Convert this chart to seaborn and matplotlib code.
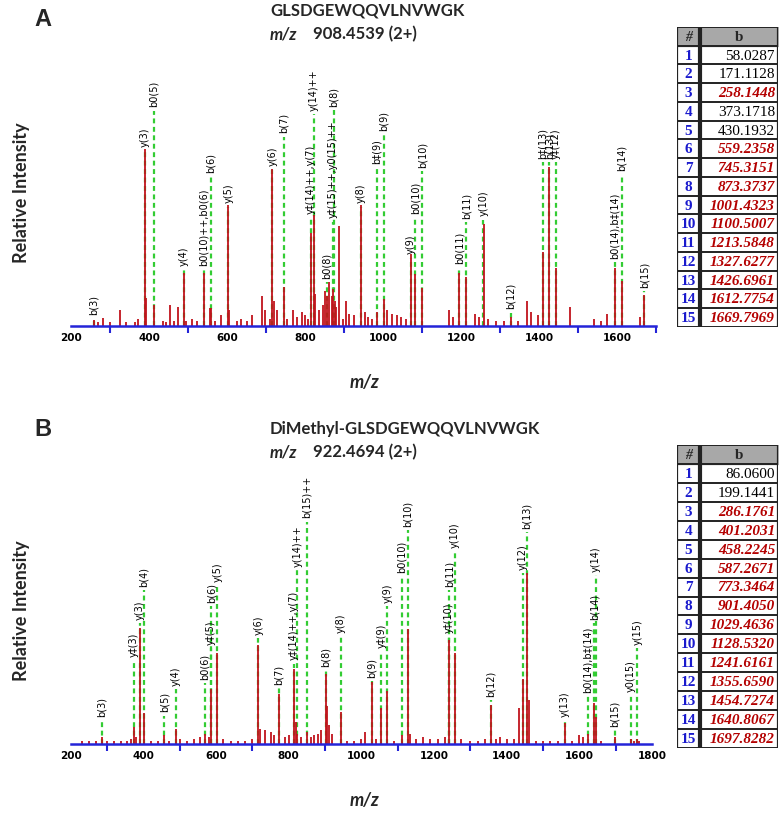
import matplotlib
matplotlib.use("Agg")
import matplotlib.pyplot as plt
import seaborn as sns

sns.set_theme(style="white")
plt.rcParams['font.family'] = ['DejaVu Sans']

RED = '#c0141c'
GREEN = '#33cc33'
BLUE = '#2424d8'
IDX_BLUE = '#1a1acd'
VAL_RED = '#b40000'

# ---------------- panel A : GLSDGEWQQVLNVWGK ----------------
a_peak_mz = [258.1, 268, 283, 299, 326, 340, 364, 373, 390.2, 391.2, 412.2, 437, 444,
             455, 465, 475, 489.3, 496, 511, 523, 541.2, 556, 559.2, 569, 585, 603.3,
             604.3, 626, 637, 652, 665, 691, 697, 710, 716.4, 720.4, 727, 745.3, 753,
             769, 779, 793, 800, 808, 814.9, 823.4, 826, 835, 845, 851, 855.4, 862,
             868, 871, 876, 880, 887, 898, 905, 912, 925, 943.5, 955, 962, 972, 984.4,
             1001.4, 1010, 1022, 1035, 1045, 1060, 1071.6, 1082.5, 1100.5, 1170, 1180,
             1195.6, 1213.6, 1235, 1245, 1257.7, 1270, 1290, 1310, 1327.6, 1345, 1370,
             1380, 1398, 1409.7, 1426.7, 1443.7, 1480, 1540, 1560, 1575, 1594.8, 1612.8,
             1660, 1669.8]
a_peak_int = [3.5, 2, 4.5, 2.5, 9, 2, 2.5, 4, 100, 16, 12, 3, 2.5,
              12, 3, 11, 30, 3, 4, 3, 30, 10, 10, 3, 6, 68.5,
              9, 3, 4, 3, 6, 17, 9, 4, 88.7, 14, 9, 22, 4,
              9, 5, 8, 6, 4, 52.5, 62.7, 18, 9, 12, 20, 17, 25,
              17, 21, 14, 11, 56.5, 4, 14, 7, 6, 68.4, 8, 5, 4, 8,
              15.3, 9, 7, 6, 5, 4, 40.7, 29.4, 21.5, 9, 5,
              30, 27.7, 7, 5, 57.6, 4, 3, 3, 5, 3, 14,
              8, 6, 42, 90, 33, 11, 4, 3, 7, 33, 25.4,
              5, 17.5]
a_lab_mz = [258.14, 390.21, 412.18, 489.28, 541.22, 559.24, 603.32, 716.41, 745.32,
            814.9, 823.4, 855.36, 870.94, 873.37, 943.54, 984.41, 1001.43, 1071.59,
            1082.49, 1100.5, 1195.57, 1213.58, 1257.67, 1327.63, 1409.67, 1426.7,
            1443.74, 1594.76, 1612.78, 1669.8]
a_lab_txt = ['b(3)', 'y(3)', 'b0(5)', 'y(4)', 'b0(10)++,b0(6)', 'b(6)', 'y(5)', 'y(6)',
             'b(7)', 'y‡(14)++,y(7)', 'y(14)++', 'b0(8)', 'y‡(15)++,y0(15)++', 'b(8)',
             'y(8)', 'b‡(9)', 'b(9)', 'y(9)', 'b0(10)', 'b(10)', 'b0(11)', 'b(11)',
             'y(10)', 'b(12)', 'b‡(13)', 'b(13)', 'y‡(12)', 'b0(14),b‡(14)', 'b(14)',
             'b(15)']
a_lab_y = [6.2, 101, 123.7, 33.9, 33.9, 86.4, 69.5, 90.4, 109,
           63.3, 121.5, 26.6, 61, 124, 69.5, 91.5, 110, 40.7,
           63.3, 89.3, 35, 60.5, 62, 9.6, 94.4, 94.4,
           94.4, 37.9, 87.6, 21.5]
a_b_val = ['58.0287', '171.1128', '258.1448', '373.1718', '430.1932', '559.2358',
           '745.3151', '873.3737', '1001.4323', '1100.5007', '1213.5848', '1327.6277',
           '1426.6961', '1612.7754', '1669.7969']
a_b_hit = [0, 0, 1, 0, 0, 1, 1, 1, 1, 1, 1, 1, 1, 1, 1]

# ---------------- panel B : DiMethyl-GLSDGEWQQVLNVWGK ----------------
b_peak_mz = [230, 250, 270, 286.2, 300, 320, 340, 355, 365, 373.2, 380, 390.2, 401.2,
             420, 440, 458.2, 470, 489.3, 500, 520, 540, 555, 569.3, 580, 586.3, 603.3,
             620, 640, 660, 680, 700, 716.4, 722, 735, 750, 760, 773.4, 790, 800,
             814.9, 819, 823.4, 835, 849.4, 860, 870, 880, 890, 901.4, 905, 912, 920,
             943.5, 960, 980, 1000, 1010, 1029.5, 1040, 1054.6, 1071.6, 1090, 1110.5,
             1128.5, 1135, 1150, 1170, 1190, 1210, 1230, 1240.7, 1257.7, 1275, 1300,
             1320, 1340, 1355.7, 1370, 1380, 1400, 1420, 1434, 1443.7, 1454.7, 1460,
             1480, 1500, 1520, 1540, 1558.8, 1580, 1600, 1610, 1622.8, 1640.8, 1645.8,
             1660, 1697.8, 1740.9, 1750, 1758.9, 1765]
b_peak_int = [1.5, 2, 1.5, 4, 2, 1.5, 2, 2, 3, 10, 4, 68, 18,
              2, 2, 5, 2, 9, 3, 2, 3, 4, 6, 4, 32, 53,
              3, 2, 2, 2, 3, 58, 9, 8, 7, 5, 29, 4, 5,
              44, 13, 6, 4, 7, 4, 5, 6, 8, 41, 22, 11, 6,
              19, 2, 2, 3, 7, 36, 3, 21, 31, 2, 5,
              67, 6, 3, 4, 3, 3, 4, 61, 53, 3, 2,
              2, 3, 23, 3, 4, 3, 3, 21, 38, 100, 26,
              2, 2, 2, 2, 12, 2, 5, 4, 6, 24, 16,
              2, 4, 3, 2, 3, 2]
b_lab_mz = [286.18, 373.19, 390.21, 401.2, 458.22, 489.28, 569.26, 586.3, 587.27,
            603.32, 716.41, 773.35, 814.89, 823.4, 849.42, 901.41, 943.54, 1029.46,
            1054.57, 1071.59, 1110.52, 1128.53, 1240.65, 1241.62, 1257.67, 1355.66,
            1443.74, 1454.73, 1558.76, 1622.8, 1640.81, 1645.8, 1697.83, 1740.87,
            1758.88]
b_lab_txt = ['b(3)', 'y‡(3)', 'y(3)', 'b(4)', 'b(5)', 'y(4)', 'b0(6)', 'y‡(5)', 'b(6)',
             'y(5)', 'y(6)', 'b(7)', 'y‡(14)++,y(7)', 'y(14)++', 'b(15)++', 'b(8)',
             'y(8)', 'b(9)', 'y‡(9)', 'y(9)', 'b0(10)', 'b(10)', 'y‡(10)', 'b(11)',
             'y(10)', 'b(12)', 'y(12)', 'b(13)', 'y(13)', 'b0(14),b‡(14)', 'b(14)',
             'y(14)', 'b(15)', 'y0(15)', 'y(15)']
b_lab_y = [16, 50.9, 72.5, 91.8, 18.6, 34, 37.4, 57.9, 82.5,
           94.7, 63.7, 34.5, 49, 103.5, 132, 45, 65, 38.6,
           56, 82.5, 100, 127, 65, 91.8, 114.6, 27.5,
           101.8, 126, 15.8, 29.8, 72.5, 100.6, 10, 30.4,
           57.9]
b_b_val = ['86.0600', '199.1441', '286.1761', '401.2031', '458.2245', '587.2671',
           '773.3464', '901.4050', '1029.4636', '1128.5320', '1241.6161', '1355.6590',
           '1454.7274', '1640.8067', '1697.8282']
b_b_hit = [0, 0, 1, 1, 1, 1, 1, 1, 1, 1, 1, 1, 1, 1, 1]

W, H = 780, 813
fig = plt.figure(figsize=(W / 100, H / 100), dpi=100)


def spectrum(rect, xmax, ytop, mz, inten, lab_mz, lab_txt, lab_y):
    ax = fig.add_axes(rect)
    ax.vlines(lab_mz, 0, [v - 2 for v in lab_y], colors=GREEN,
              linestyles=(0, (2.2, 1.6)), lw=1.6, zorder=1)
    ax.vlines(mz, 0, inten, colors=RED, lw=1.3, zorder=2)
    for m, t, y in zip(lab_mz, lab_txt, lab_y):
        ax.text(m, y, t, rotation=90, ha='center', va='bottom', fontsize=7,
                color='black', zorder=3)
    ax.set_xlim(200, xmax)
    ax.set_ylim(0, ytop)
    sns.despine(ax=ax, left=True)
    ax.spines['bottom'].set_color(BLUE)
    ax.spines['bottom'].set_linewidth(1.8)
    ax.set_yticks([])
    ax.set_xticks(range(200, xmax + 1, 200))
    ax.set_xticks(range(300, xmax + 1, 200), minor=True)
    ax.tick_params(axis='x', which='major', length=0, pad=5, labelsize=7.5,
                   labelcolor='black')
    ax.tick_params(axis='x', which='minor', length=5, width=1.5, color=BLUE,
                   direction='out', bottom=True)
    for t in ax.get_xticklabels():
        t.set_fontweight('bold')
    ax.patch.set_alpha(0)
    return ax


def b_table(rect, vals, hits):
    ax = fig.add_axes(rect)
    n = len(vals)
    ax.set_xlim(0, 101)
    ax.set_ylim(n + 1, 0)
    ax.axis('off')
    ax.fill_between([0, 101], 0, 1, color='#a8a8a8')
    ax.hlines(range(n + 2), 0, 101, colors='#222222', lw=1.4)
    ax.vlines([0, 101], 0, n + 1, colors='#222222', lw=1.6)
    ax.vlines(23, 0, n + 1, colors='#222222', lw=3)
    ax.text(11.5, 0.55, '#', ha='center', va='center', fontsize=10,
            family='Liberation Serif', fontweight='bold', style='italic')
    ax.text(62, 0.55, 'b', ha='center', va='center', fontsize=11,
            family='Liberation Serif', fontweight='bold')
    for i, (v, h) in enumerate(zip(vals, hits), start=1):
        ax.text(11.5, i + 0.55, str(i), ha='center', va='center', fontsize=11,
                family='Liberation Serif', fontweight='bold', color=IDX_BLUE)
        ax.text(98, i + 0.55, v, ha='right', va='center', fontsize=11,
                family='Liberation Serif',
                color=VAL_RED if h else 'black',
                fontweight='bold' if h else 'normal',
                style='italic' if h else 'normal')
    return ax


def fx(x):
    return x / W


def fy(y):
    return 1 - y / H


# panel A
spectrum([fx(71), fy(326), 585 / W, 266 / H], 1700, 266 / 1.77,
         a_peak_mz, a_peak_int, a_lab_mz, a_lab_txt, a_lab_y)
b_table([fx(677), fy(327), 101 / W, 300 / H], a_b_val, a_b_hit)

# panel B
spectrum([fx(70.6), fy(744), 581.6 / W, 266 / H], 1800, 266 / 1.71,
         b_peak_mz, b_peak_int, b_lab_mz, b_lab_txt, b_lab_y)
b_table([fx(677), fy(748), 101 / W, 303 / H], b_b_val, b_b_hit)

# titles and axis labels
TF = ['Lato', 'DejaVu Sans']
for dy, letter, pep, mz in [(0, 'A', 'GLSDGEWQQVLNVWGK', '908.4539 (2+)'),
                            (418, 'B', 'DiMethyl-GLSDGEWQQVLNVWGK', '922.4694 (2+)')]:
    fig.text(fx(43), fy(19 + dy - (8 if letter == 'B' else 0)), letter, fontsize=17,
             fontweight='bold', family='Liberation Sans', ha='center', va='center')
    fig.text(fx(270), fy(11 + dy), pep, fontsize=12, fontweight='bold', family=TF,
             ha='left', va='center')
    fig.text(fx(270), fy(34 + dy), 'm/z', fontsize=12, fontweight='bold',
             style='italic', family=TF, ha='left', va='center')
    fig.text(fx(313), fy(34 + dy), mz, fontsize=12, fontweight='bold', family=TF,
             ha='left', va='center')
    fig.text(fx(22), fy(193 + dy), 'Relative Intensity', rotation=90, fontsize=13,
             fontweight='bold', family=TF, ha='center', va='center')
    fig.text(fx(365), fy(382 + dy), 'm/z', fontsize=13, fontweight='bold',
             style='italic', family=TF, ha='center', va='center')

fig.savefig('out.png', dpi=100, facecolor='white')
